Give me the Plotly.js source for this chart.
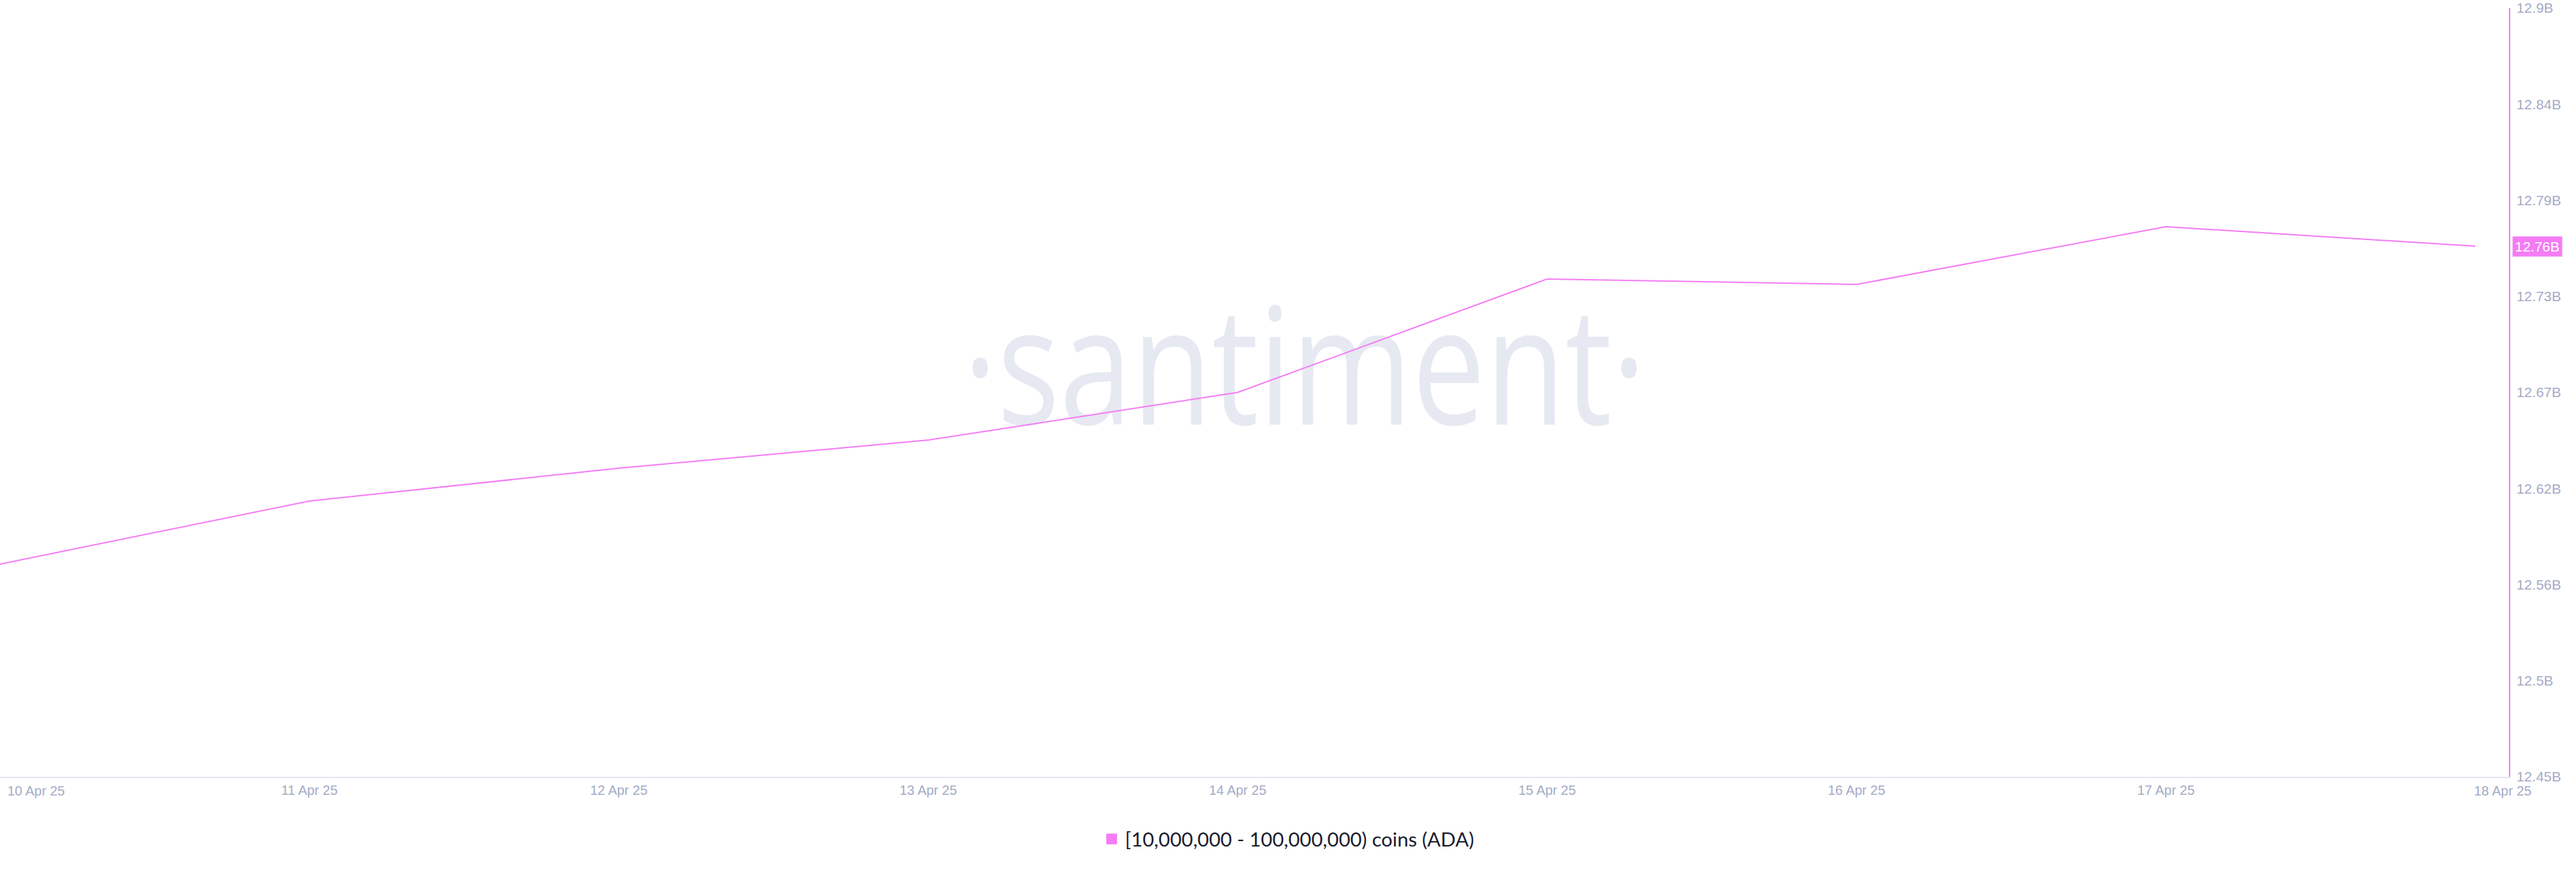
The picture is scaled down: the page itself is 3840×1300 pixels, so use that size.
<!DOCTYPE html>
<html>
<head>
<meta charset="utf-8">
<script src="https://cdn.plot.ly/plotly-3.0.1.min.js"></script>
<style>
  html, body { margin: 0; padding: 0; background: #ffffff; }
  #chart { width: 3840px; height: 1300px; }
</style>
</head>
<body>
<div id="chart"></div>
<script>
// ---- data ----
const dates = ['2025-04-10', '2025-04-11', '2025-04-12', '2025-04-13', '2025-04-14',
               '2025-04-15', '2025-04-16', '2025-04-17', '2025-04-18'];
const dateLabels = ['10 Apr 25', '11 Apr 25', '12 Apr 25', '13 Apr 25', '14 Apr 25',
                    '15 Apr 25', '16 Apr 25', '17 Apr 25', '18 Apr 25'];
const holdings = [12574500000, 12611400000, 12630600000, 12647100000, 12675000000,
                  12741400000, 12738200000, 12772000000, 12760600000];
const yTickVals = [12450000000, 12506250000, 12562500000, 12618750000, 12675000000,
                   12731250000, 12787500000, 12843750000, 12900000000];
const yTickLabels = ['12.45B', '12.5B', '12.56B', '12.62B', '12.67B', '12.73B', '12.79B', '12.84B', '12.9B'];
const seriesName = '[10,000,000 - 100,000,000) coins (ADA)';
const watermarkText = '\u00B7santiment\u00B7';
const xRange = ['2025-04-10', '2025-04-18 02:36'];
const yRange = [12450000000, 12900000000];

// ---- styles ----
const pink = '#f47cf4';
const axisText = '#a3abc6';
const tickFont = { family: 'Liberation Sans, Arial, sans-serif', size: 20, color: axisText };
const yTickFont = { family: 'Liberation Sans, Arial, sans-serif', size: 21, color: axisText };

// watermark position: relative spot inside the axis ranges
const t0 = new Date(xRange[0] + 'T00:00:00Z').getTime();
const t1 = new Date(xRange[1].replace(' ', 'T') + ':00Z').getTime();
const wmX = new Date(t0 + (t1 - t0) * 0.52).toISOString().replace('T', ' ').slice(0, 19);
const wmY = yRange[0] + (yRange[1] - yRange[0]) * 0.511;

const lastVal = holdings[holdings.length - 1];
const lastLabel = (lastVal / 1e9).toFixed(2) + 'B';

const data = [
  {
    x: [wmX], y: [wmY], mode: 'text', text: [watermarkText],
    textposition: 'middle center',
    textfont: { family: 'Open Sans, sans-serif', size: 243, color: '#e7e9f2' },
    showlegend: false, hoverinfo: 'skip'
  },
  {
    x: dates, y: holdings, mode: 'lines', name: seriesName,
    line: { color: pink, width: 2 },
    showlegend: false, hoverinfo: 'skip'
  },
  {
    x: [null], y: [null], mode: 'markers', name: seriesName,
    marker: { symbol: 'square', size: 16, color: pink },
    showlegend: true, hoverinfo: 'skip'
  }
];

const annotations = [
  {
    xref: 'x', x: dates[0], yref: 'paper', y: 0, yanchor: 'top', xanchor: 'left',
    xshift: 9, yshift: -8, text: dateLabels[0], showarrow: false, font: tickFont
  },
  {
    xref: 'x', x: dates[dates.length - 1], yref: 'paper', y: 0, yanchor: 'top', xanchor: 'center',
    xshift: 41, yshift: -8, text: dateLabels[dateLabels.length - 1], showarrow: false, font: tickFont
  },
  {
    xref: 'paper', x: 1, xanchor: 'left', xshift: 5, yref: 'y', y: lastVal, yanchor: 'middle',
    text: lastLabel, showarrow: false, bgcolor: pink, borderpad: 3,
    font: { family: 'Liberation Sans, Arial, sans-serif', size: 21, color: '#ffffff' }
  }
];

const layout = {
  width: 3840, height: 1300,
  margin: { l: 0, r: 100, t: 12, b: 142, pad: 0 },
  paper_bgcolor: '#ffffff', plot_bgcolor: '#ffffff',
  hovermode: false,
  showlegend: true,
  legend: {
    orientation: 'h', x: 0.5134, xanchor: 'center', y: -0.0812, yanchor: 'middle',
    font: { family: 'Lato, sans-serif', size: 29.5, color: '#1b1d2e' },
    bgcolor: 'rgba(0,0,0,0)'
  },
  xaxis: {
    type: 'date', range: xRange,
    tickvals: dates.slice(1, -1), ticktext: dateLabels.slice(1, -1),
    tickfont: tickFont, ticks: '', showgrid: false, zeroline: false,
    showline: true, linecolor: '#e3e6ef', linewidth: 2, ticklabelstandoff: 1
  },
  yaxis: {
    side: 'right', range: yRange,
    tickvals: yTickVals, ticktext: yTickLabels,
    tickfont: yTickFont, ticks: '', showgrid: false, zeroline: false,
    showline: true, linecolor: pink, linewidth: 2, ticklabelstandoff: 5
  },
  annotations: annotations
};

Plotly.newPlot('chart', data, layout, { staticPlot: true, displayModeBar: false }).then(function (gd) {
  const t = gd.querySelector('.scatterlayer .trace .textpoint text');
  if (t) {
    const x = parseFloat(t.getAttribute('x'));
    t.setAttribute('transform', 'translate(' + x + ',0) scale(0.8,1) translate(' + (-x) + ',0)');
  }
});
</script>
</body>
</html>
